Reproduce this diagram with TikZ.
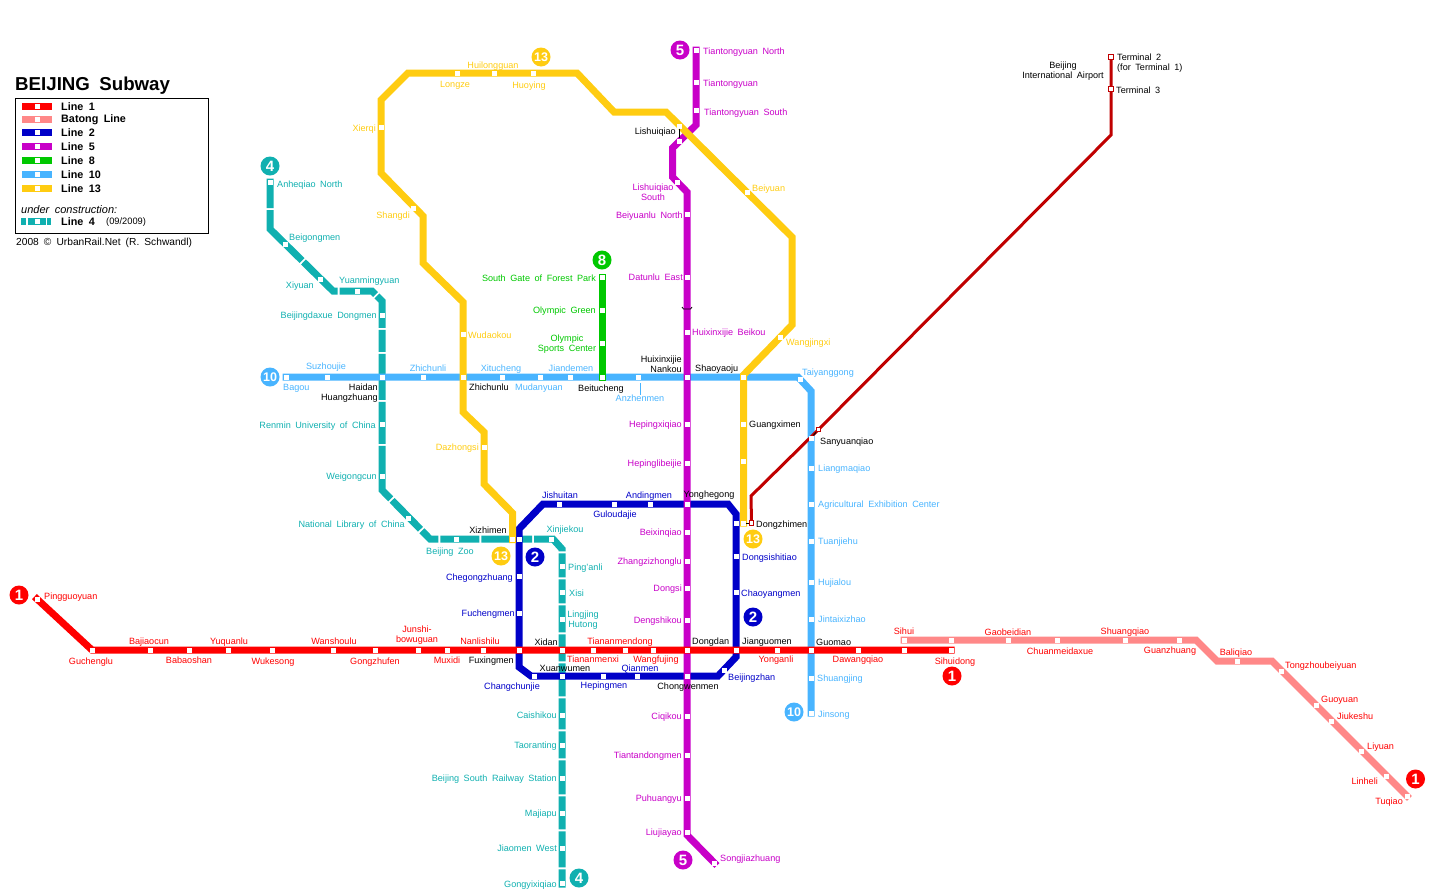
\documentclass[tikz,border=0pt]{standalone}
\usepackage{fontspec}
\setmainfont[WordSpace=1.8]{Liberation Sans}
\usetikzlibrary{backgrounds}
\definecolor{lineone}{HTML}{FF0000}
\definecolor{linebatong}{HTML}{FF8888}
\definecolor{linetwo}{HTML}{0000C8}
\definecolor{linefour}{HTML}{10B0B0}
\definecolor{linefive}{HTML}{C800C8}
\definecolor{lineeight}{HTML}{00C800}
\definecolor{lineten}{HTML}{48B4FF}
\definecolor{linethirteen}{HTML}{FFCC11}
\definecolor{lineair}{HTML}{C00000}
\tikzset{
  stn/.style={fill=white,inner sep=0pt,minimum size=5pt},
  airstn/.style={fill=white,draw=lineair,line width=0.9pt,inner sep=0pt,minimum size=4.5pt},
  lbl/.style={inner sep=0pt,align=center,yshift=-0.7pt,font=\fontsize{9.1}{10}\selectfont},
  badge/.style={circle,inner sep=0pt,minimum size=19pt,text=white,font=\fontsize{15}{15}\bfseries\selectfont},
  smallbadge/.style={badge,font=\fontsize{12.5}{13}\bfseries\selectfont},
  track/.style={line width=7pt,line cap=rect,line join=miter},
  tick/.style={black,line width=0.8pt},
  swatch/.style={inner sep=0pt,minimum width=30pt,minimum height=7pt},
  legtxt/.style={anchor=west,inner sep=0pt,yshift=-0.7pt,font=\fontsize{10.8}{11}\bfseries\selectfont}
}
\begin{document}
\begin{tikzpicture}[x=1pt,y=-1pt,line join=miter]
\useasboundingbox (0,0) rectangle (1431,892);
% bends
\foreach \n/\x/\y in {aa/92/650,
  ba/1196/640,bb/1217/661,bc/1272/661,
  ra/519/529,rb/543/504,rc/728/504,rd/736/514,re/736/657,rf/718/676,rg/531/676,rh/519/667,
  fa/270/178.5,fb/270/229,fc/333/291,fd/372/291,fe/382/301,ff/382/490,fg/430/539,fh/553/539,fi/562/549,fj/562/887.5,
  va/696/125,vb/672.5/148,vc/672.5/177,vd/687/192,ve/687/835,
  ta/798/377,tb/811/391,
  ya/512.5/513,yb/484/484,yc/484/432,yd/463/412,ye/463/302,yf/423/263,yg/423/216,yh/381/173,yi/381/100,yj/408/73,yk/577/73,yl/614/112,ym/666/112,yn/792/237,yo/792/325,yp/743.5/375,
  xa/1111/135,xb/751/496}
  \coordinate (\n) at (\x,\y);
% stations
\foreach \n/\x/\y in {pingguoyuan/37/599,bajiaocun/150/650,babaoshan/189/650,yuquanlu/228/650,wukesong/272/650,wanshoulu/333/650,gongzhufen/375/650,junshi/418/650,muxidi/447/650,nanlishilu/483/650,fuxingmen/519/650,xidan/562/650,tiananmenxi/593/650,tiananmendong/625/650,wangfujing/653/650,dongdan/687/650,jianguomen/736/650,yonganli/777/650,guomao/811/650,dawangqiao/858/650,sihuidongw/904/650,sihuidong/951/650,gucheng/92/650}
  \node[stn] (\n) at (\x,\y) {};
\foreach \n/\x/\y in {sihui/904/640,gaobeidianw/951/640,gaobeidian/1008/640,chuanmei/1057/640,shuangqiao/1125/640,guanzhuang/1179/640,baliqiao/1237/661,tongzhou/1281.5/671,guoyuan/1316/705,jiukeshu/1331/721,liyuan/1361/751,linheli/1386.5/776,tuqiao/1407/796}
  \node[stn] (\n) at (\x,\y) {};
\foreach \n/\x/\y in {xizhimen/519/539,chegong/519/576,fuchengmen/519/613,changchun/534/676,xuanwumen/562/676,hepingmen/603/676,qianmen/637/676,chongwen/687/676,beijingzhan/724/670,chaoyang/736/592,dongsishi/736/556,dongzhi/736/523,yonghegong/687/504,andingmen/650/504,guloudajie/614/504,jishuitan/559/504}
  \node[stn] (\n) at (\x,\y) {};
\foreach \n/\x/\y in {anheqiao/270/182,beigongmen/285/244,xiyuan/320/279,yuanming/357/291,beida/382/315,haidan/382/377,renmin/382/424,weigongcun/382/476,library/408/518,zoo/456/539,xinjiekou/551/539,pinganli/562/566,xisi/562/592,lingjing/562/619,caishikou/562/715,taoranting/562/745,southstn/562/778,majiapu/562/813,jiaomen/562/848,gongyi/562/883}
  \node[stn] (\n) at (\x,\y) {};
\foreach \n/\x/\y in {tiannorth/696/50,tiantong/696/82,tiansouth/696/110,lishuilow/679/141,lishuisouth/677/182,beiyuanlu/687/214,datunlu/687/277,beikou/687/332,nankou/687/377,hepingxi/687/424,hepingli/687/463,beixinqiao/687/532,zhangzi/687/561,dongsi/687/588,dengshikou/687/620,ciqikou/687/716,tiantan/687/755,puhuangyu/687/798,liujiayao/687/832,songjia/714.5/863}
  \node[stn] (\n) at (\x,\y) {};
\foreach \n/\x/\y in {southgate/602/277,olympic/602/310,sports/602/343,beitucheng/602/377}
  \node[stn] (\n) at (\x,\y) {};
\foreach \n/\x/\y in {bagou/286/377,suzhoujie/327/377,zhichunli/423/377,zhichunlu/463/377,xitucheng/502/377,mudanyuan/540/377,jiandemen/570/377,anzhenmen/638/377,shaoyaoju/743.5/377,taiyang/800/379,sanyuan/811/438,liangma/811/468,agri/811/504,tuanjie/811/541,hujialou/811/582,jintai/811/619,shuangjing/811/678,jinsong/811/713}
  \node[stn] (\n) at (\x,\y) {};
\foreach \n/\x/\y in {xizhiyel/512.5/539.5,dazhongsi/484/447,wudaokou/463/334,shangdi/413/208,xierqi/381/127,longze/457/73,huilong/494/73,huoying/533/73,lishui/679/126,beiyuan/747/192,wangjing/780/337,guangxi/743.5/424,liufang/743.5/461,dongzhiyel/743.5/523}
  \node[stn] (\n) at (\x,\y) {};
\foreach \n/\x/\y in {termtwo/1111/57,termthree/1111/89,airsan/818.5/429.5,airdong/751.5/523}
  \node[airstn] (\n) at (\x,\y) {};
% lines
\begin{pgfonlayer}{background}
\draw[line width=7pt,linefour,dash pattern=on 29.5pt off 2pt on 64pt off 2pt on 45.9pt off 2pt on 37.5pt off 2pt on 34.1pt off 2pt on 22pt off 2pt on 46pt off 2pt on 42pt off 2pt on 56.5pt off 2pt on 40.5pt off 2pt on 20pt off 2pt on 39pt off 2pt on 50.7pt off 2pt on 34.8pt off 2pt on 24pt off 2pt on 24pt off 2pt on 27pt off 2pt on 27pt off 2pt on 33pt off 2pt on 31pt off 2pt on 27pt off 2pt on 34pt off 2pt on 33pt off 2pt on 36pt off 2pt on 40pt off 2pt]
  (fa) -- (fb) -- (fc) -- (fd) -- (fe) -- (ff) -- (fg) -- (fh) -- (fi) -- (fj);
\draw[track,linetwo] (ra) -- (rb) -- (rc) -- (rd) -- (re) -- (rf) -- (rg) -- (rh) -- cycle;
\draw[track,lineten] (bagou.center) -- (ta) -- (tb) -- (jinsong.center);
\draw[track,linefive] (tiannorth.center) -- (va) -- (vb) -- (vc) -- (vd) -- (ve) -- (songjia.center);
\draw[track,lineeight] (southgate.center) -- (beitucheng.center);
\draw[track,linethirteen] (xizhiyel.center) -- (ya) -- (yb) -- (yc) -- (yd) -- (ye) -- (yf) -- (yg) -- (yh) -- (yi) -- (yj) -- (yk) -- (yl) -- (ym) -- (yn) -- (yo) -- (yp) -- (dongzhiyel.center);
\draw[track,linebatong] (sihui.center) -- (ba) -- (bb) -- (bc) -- (tuqiao.center);
\draw[track,lineone] (pingguoyuan.center) -- (aa) -- (sihuidong.center);
\draw[lineair,line width=3pt] (termtwo.center) -- (xa) -- (airsan.center) -- (xb) -- (airdong.center);
\end{pgfonlayer}
% ticks between stations
\draw[tick] (lishui) -- (lishuilow);
\draw[tick] (dongzhiyel) -- (airdong);
\draw[tick] (airsan) -- (sanyuan);
\draw[tick] (682,307) -- (683.5,309) -- (690.5,309) -- (692,307);
% labels
\begin{scope}[text=lineone]
\foreach \n/\a/\x/\y/\t in {pingguoyuan/west/44/596/Pingguoyuan,gucheng/center/91/661/Guchenglu,bajiaocun/center/149/641/Bajiaocun,babaoshan/center/189/660/Babaoshan,yuquanlu/center/229/641/Yuquanlu,wukesong/center/273/661/Wukesong,wanshoulu/center/334/641/Wanshoulu,gongzhufen/center/375/661/Gongzhufen,junshi/center/417/634/Junshi-\\bowuguan,muxidi/center/447/660/Muxidi,nanlishilu/center/480/641/Nanlishilu,tiananmenxi/center/593/659/Tiananmenxi,tiananmendong/center/620/641/Tiananmendong,wangfujing/center/656/659/Wangfujing,yonganli/center/776/659/Yonganli,dawangqiao/center/858/659/Dawangqiao,sihuidong/center/955/661/Sihuidong,sihui/center/904/631/Sihui,gaobeidian/center/1008/632/Gaobeidian,chuanmei/center/1060/651/Chuanmeidaxue,shuangqiao/center/1125/631/Shuangqiao,guanzhuang/center/1170/650/Guanzhuang,baliqiao/center/1236/652/Baliqiao,tongzhou/west/1285/665/Tongzhoubeiyuan,guoyuan/west/1321/700/Guoyuan,jiukeshu/west/1337/716/Jiukeshu,liyuan/west/1367/746/Liyuan,linheli/east/1378/781/Linheli,tuqiao/east/1403/801/Tuqiao}
  \node[lbl,anchor=\a] (l\n) at (\x,\y) {\t};
\end{scope}
\begin{scope}[text=linetwo]
\foreach \n/\a/\x/\y/\t in {jishuitan/center/560/495/Jishuitan,andingmen/center/649/495/Andingmen,guloudajie/center/615/514/Guloudajie,chegong/east/513/577/Chegongzhuang,fuchengmen/east/515/613/Fuchengmen,changchun/center/512/686/Changchunjie,hepingmen/center/604/685/Hepingmen,qianmen/center/640/668/Qianmen,beijingzhan/west/728/677/Beijingzhan,chaoyang/west/741/593/Chaoyangmen,dongsishi/west/742/557/Dongsishitiao}
  \node[lbl,anchor=\a] (l\n) at (\x,\y) {\t};
\end{scope}
\begin{scope}[text=linefour]
\foreach \n/\a/\x/\y/\t in {anheqiao/west/277/184/Anheqiao North,beigongmen/west/289/237/Beigongmen,xiyuan/east/314/285/Xiyuan,yuanming/west/339/280/Yuanmingyuan,beida/east/377/315/Beijingdaxue Dongmen,renmin/east/376/425/Renmin University of China,weigongcun/east/377/476/Weigongcun,library/east/405/524/National Library of China,zoo/center/450/551/Beijing Zoo,xinjiekou/center/565/529/Xinjiekou,pinganli/west/568/567/Ping'anli,xisi/west/569/593/Xisi,lingjing/center/583/619/Lingjing\\Hutong,caishikou/east/557/715/Caishikou,taoranting/east/557/745/Taoranting,southstn/east/557/778/Beijing South Railway Station,majiapu/east/557/813/Majiapu,jiaomen/east/557/848/Jiaomen West,gongyi/east/557/884/Gongyixiqiao}
  \node[lbl,anchor=\a] (l\n) at (\x,\y) {\t};
\end{scope}
\begin{scope}[text=linefive]
\foreach \n/\a/\x/\y/\t in {tiannorth/west/703/51/Tiantongyuan North,tiantong/west/703/83/Tiantongyuan,tiansouth/west/704/112/Tiantongyuan South,lishuisouth/center/653/192/Lishuiqiao\\South,beiyuanlu/east/683/215/Beiyuanlu North,datunlu/east/683/277/Datunlu East,beikou/west/692/332/Huixinxijie Beikou,hepingxi/east/682/424/Hepingxiqiao,hepingli/east/682/463/Hepinglibeijie,beixinqiao/east/682/532/Beixinqiao,zhangzi/east/682/561/Zhangzizhonglu,dongsi/east/682/588/Dongsi,dengshikou/east/682/620/Dengshikou,ciqikou/east/682/716/Ciqikou,tiantan/east/682/755/Tiantandongmen,puhuangyu/east/682/798/Puhuangyu,liujiayao/east/682/832/Liujiayao,songjia/west/720/858/Songjiazhuang}
  \node[lbl,anchor=\a] (l\n) at (\x,\y) {\t};
\end{scope}
\begin{scope}[text=lineeight]
\foreach \n/\a/\x/\y/\t in {southgate/east/596/278/South Gate of Forest Park,olympic/east/596/310/Olympic Green,sports/center/567/343/Olympic\\Sports Center}
  \node[lbl,anchor=\a] (l\n) at (\x,\y) {\t};
\end{scope}
\begin{scope}[text=lineten]
\foreach \n/\a/\x/\y/\t in {bagou/west/283/388/Bagou,suzhoujie/center/326/366/Suzhoujie,zhichunli/center/428/368/Zhichunli,xitucheng/center/501/368/Xitucheng,mudanyuan/center/539/387/Mudanyuan,jiandemen/center/571/368/Jiandemen,anzhenmen/center/640/398/Anzhenmen,taiyang/west/802/372/Taiyanggong,liangma/west/818/468/Liangmaqiao,agri/west/818/504/Agricultural Exhibition Center,tuanjie/west/818/541/Tuanjiehu,hujialou/west/818/582/Hujialou,jintai/west/818/619/Jintaixizhao,shuangjing/west/817/678/Shuangjing,jinsong/west/818/714/Jinsong}
  \node[lbl,anchor=\a] (l\n) at (\x,\y) {\t};
\end{scope}
\begin{scope}[text=linethirteen]
\foreach \n/\a/\x/\y/\t in {huilong/center/493/65/Huilongguan,longze/center/455/85/Longze,huoying/center/529/85/Huoying,xierqi/east/376/128/Xierqi,shangdi/east/410/215/Shangdi,wudaokou/west/468/335/Wudaokou,dazhongsi/east/479/447/Dazhongsi,beiyuan/west/752/188/Beiyuan,wangjing/west/786/342/Wangjingxi}
  \node[lbl,anchor=\a] (l\n) at (\x,\y) {\t};
\end{scope}
\foreach \n/\a/\x/\y/\t in {xizhimen/east/507/530/Xizhimen,fuxingmen/east/514/660/Fuxingmen,xidan/east/558/642/Xidan,xuanwumen/center/565/668/Xuanwumen,dongdan/west/692/641/Dongdan,jianguomen/west/742/641/Jianguomen,guomao/west/816/642/Guomao,chongwen/center/688/686/Chongwenmen,yonghegong/center/709/494/Yonghegong,dongzhi/west/756/524/Dongzhimen,guangxi/west/749/424/Guangximen,sanyuan/west/820/441/Sanyuanqiao,shaoyaoju/west/695/368/Shaoyaoju,beitucheng/center/601/388/Beitucheng,zhichunlu/west/469/387/Zhichunlu,lishui/east/676/131/Lishuiqiao,termthree/west/1116/90/Terminal 3}
  \node[lbl,anchor=\a] (l\n) at (\x,\y) {\t};
\node[lbl,anchor=east,align=right] (lnankou) at (682,364) {Huixinxijie\\Nankou};
\node[lbl,anchor=east,align=right] (lhaidan) at (378,392) {Haidan\\Huangzhuang};
\node[lbl,anchor=west,align=left] (ltermtwo) at (1117,62) {Terminal 2\\(for Terminal 1)};
\node[lbl] (lairport) at (1063,70) {Beijing\\International Airport};
\coordinate (anztop) at (640,383);
\draw[lineten,line width=0.8pt] (anztop) -- (lanzhenmen.north);
% line numbers
\foreach \n/\c/\x/\y/\t in {aone/lineone/19/595/1,bone/lineone/952/676/1,cone/lineone/1415.5/779/1,atwo/linetwo/535/557/2,btwo/linetwo/753/617/2,afour/linefour/270/166/4,bfour/linefour/579/878/4,afive/linefive/680/50/5,bfive/linefive/683/860/5,aeight/lineeight/602/260/8}
  \node[badge,fill=\c] (\n) at (\x,\y) {\t};
\foreach \n/\c/\x/\y/\t in {aten/lineten/270/377/10,bten/lineten/794/712/10,athirteen/linethirteen/541/57/13,bthirteen/linethirteen/501/556/13,cthirteen/linethirteen/753/539/13}
  \node[smallbadge,fill=\c] (\n) at (\x,\y) {\t};
% legend
\node[anchor=west,inner sep=0pt,font=\fontsize{18.7}{19}\bfseries\selectfont] (title) at (15,86) {BEIJING Subway};
\node[draw=black,line width=0.8pt,minimum width=193pt,minimum height=135pt,inner sep=0pt,anchor=north west] (legbox) at (15,98) {};
\foreach \n/\c/\y/\t in {la/lineone/106/Line 1,lb/linebatong/119/Batong Line,lc/linetwo/132/Line 2,ld/linefive/146/Line 5,le/lineeight/160/Line 8,lf/lineten/174/Line 10,lg/linethirteen/188/Line 13}{
  \node[swatch,fill=\c] (sw\n) at (37,\y) {};
  \node[stn] (sq\n) at (37,\y) {};
  \node[legtxt] (tx\n) at (61,\y) {\t};
}
\node[anchor=west,inner sep=0pt,font=\fontsize{11}{11}\itshape\selectfont] (legunder) at (21,210) {under construction:};
\coordinate (swl) at (21,221);
\coordinate (swr) at (51,221);
\draw[line width=7pt,linefour,dash pattern=on 4.7pt off 2pt on 18.3pt off 1pt on 5pt] (swl) -- (swr);
\node[stn] (sqh) at (37,221) {};
\node[legtxt] (txh) at (61,221) {Line 4};
\node[anchor=west,inner sep=0pt,font=\fontsize{9.3}{9}\selectfont] (legdate) at (106,222) {(09/2009)};
\node[anchor=west,inner sep=0pt,font=\fontsize{10.2}{10}\selectfont] (legcopy) at (16,243) {2008 © UrbanRail.Net (R. Schwandl)};
\end{tikzpicture}
\end{document}
